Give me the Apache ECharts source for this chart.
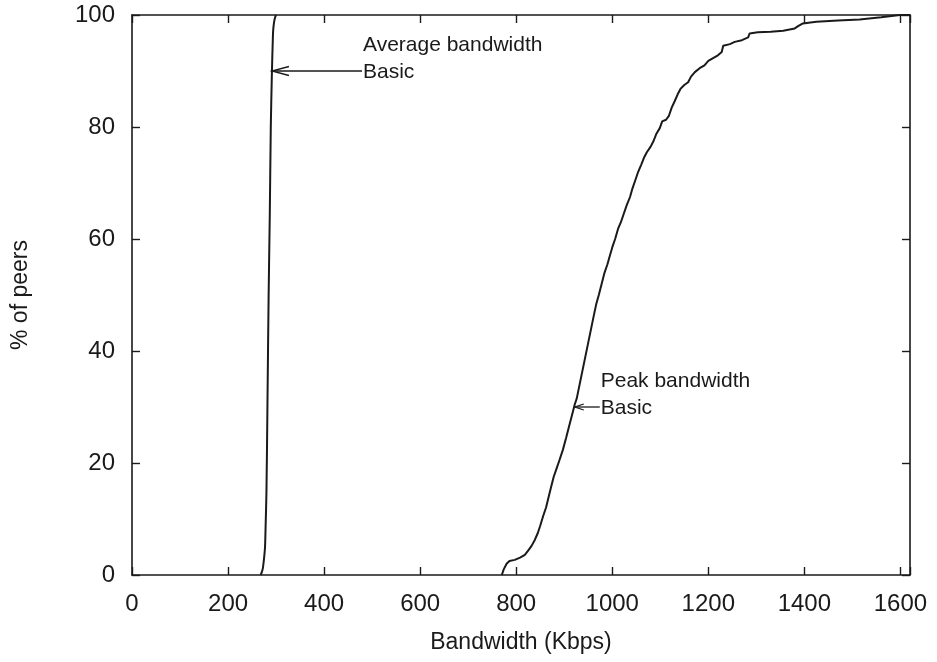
<!DOCTYPE html>
<html><head><meta charset="utf-8">
<script src="https://cdn.jsdelivr.net/npm/echarts@6/dist/echarts.min.js"></script>
<style>html,body{margin:0;padding:0;background:#fff}#c{width:937px;height:662px}</style>
</head><body><div id="c"></div>
<script>
// ---- data ----
const xTicks = [0, 200, 400, 600, 800, 1000, 1200, 1400, 1600];
const yTicks = [0, 20, 40, 60, 80, 100];
const avgBandwidth = [[268,0],[272,1],[275,3],[277,5],[278,8],[280,15],[282,30],[284.5,50],[287,65],[289,80],[291.4,90],[293,95],[294,97.3],[296,98.8],[298,99.6],[300,100]];
const peakBandwidth = [[770,0],[774,1],[780,2],[786,2.5],[797,2.7],[808,3.1],[818,3.6],[826,4.5],[832,5.2],[839,6.3],[845,7.5],[850,8.8],[856,10.5],[862,12],[866,13.4],[872,15.5],[878,17.5],[884,19],[890,20.5],[897,22.3],[904,24.5],[910,26.5],[916,28.5],[922,30.5],[926,31.5],[932,34],[938,36.5],[944,39],[950,41.5],[956,44],[962,46.5],[967,48.5],[972,50],[978,52],[984,54],[990,55.5],[995,57],[1000,58.5],[1006,60],[1012,61.8],[1018,63],[1024,64.5],[1030,66],[1037,67.5],[1042,69],[1048,70.5],[1054,72],[1060,73.2],[1066,74.5],[1072,75.5],[1080,76.5],[1086,77.5],[1092,78.8],[1099,79.8],[1104,81],[1112,81.3],[1118,82],[1124,83.5],[1130,84.6],[1136,85.8],[1142,86.8],[1150,87.5],[1158,88],[1164,89],[1172,89.8],[1182,90.5],[1192,91],[1200,91.8],[1210,92.3],[1220,92.8],[1228,93.4],[1231,94.5],[1245,94.8],[1255,95.2],[1270,95.5],[1283,96],[1286,96.7],[1303,96.9],[1330,97],[1356,97.2],[1380,97.6],[1387,98],[1397,98.5],[1425,98.8],[1470,99],[1515,99.2],[1560,99.6],[1599,100],[1620,100]];
const annotations = [
  {lines:['Average bandwidth','Basic'], textAt:[481, 94.6], lineStep:4.8, arrowFrom:[479,90], arrowTo:[291.4,90], headLen:17, headHalf:4.5},
  {lines:['Peak bandwidth','Basic'], textAt:[976, 34.6], lineStep:4.8, arrowFrom:[974,30], arrowTo:[922,30], headLen:9, headHalf:3}
];
const xName = 'Bandwidth (Kbps)';
const yName = '% of peers';

const FONT = '"Liberation Sans", Arial, Helvetica, sans-serif';
const INK = '#1a1a1a';
const chart = echarts.init(document.getElementById('c'), null, {renderer:'canvas'});
const axLine = {show:true, onZero:false, lineStyle:{color:INK, width:1.6}};
const tickIn = {show:true, inside:true, length:8, lineStyle:{color:INK, width:1.4}};
const xBase = {type:'value', min:0, max:1620, interval:200, axisLine:axLine, axisTick:tickIn, splitLine:{show:false}};
const yBase = {type:'value', min:0, max:100, interval:20, axisLine:axLine, axisTick:tickIn, splitLine:{show:false}};
chart.setOption({
  animation:false,
  backgroundColor:'#fff',
  grid:{left:132, right:27, top:15, bottom:87, containLabel:false},
  xAxis:[
    Object.assign({}, xBase, {position:'bottom', name:xName, nameLocation:'middle', nameGap:56,
      nameTextStyle:{fontFamily:FONT, fontSize:23, color:INK},
      axisLabel:{margin:17, fontFamily:FONT, fontSize:24, color:INK, formatter:v => xTicks.includes(v) ? String(v) : ''}}),
    Object.assign({}, xBase, {position:'top', axisLabel:{show:false}})
  ],
  yAxis:[
    Object.assign({}, yBase, {position:'left', name:yName, nameLocation:'middle', nameGap:100, nameRotate:90,
      nameTextStyle:{fontFamily:FONT, fontSize:23, color:INK},
      axisLabel:{margin:17, fontFamily:FONT, fontSize:24, color:INK, formatter:v => yTicks.includes(v) ? String(v) : ''}}),
    Object.assign({}, yBase, {position:'right', axisLabel:{show:false}})
  ],
  series:[
    {type:'line', name:'Average bandwidth', data:avgBandwidth, showSymbol:false, smooth:0.3, lineStyle:{color:INK, width:2}},
    {type:'line', name:'Peak bandwidth', data:peakBandwidth, showSymbol:false, lineStyle:{color:INK, width:2}}
  ]
});
const g = [];
annotations.forEach(a => {
  a.lines.forEach((t, i) => {
    const p = chart.convertToPixel({gridIndex:0}, [a.textAt[0], a.textAt[1] - i*a.lineStep]);
    g.push({type:'text', x:p[0], y:p[1], style:{text:t, fontFamily:FONT, fontSize:21, fill:INK, verticalAlign:'middle', align:'left'}});
  });
  const f = chart.convertToPixel({gridIndex:0}, a.arrowFrom);
  const t = chart.convertToPixel({gridIndex:0}, a.arrowTo);
  g.push({type:'line', shape:{x1:f[0], y1:f[1], x2:t[0], y2:t[1]}, style:{stroke:INK, lineWidth:1.3}});
  g.push({type:'polyline', shape:{points:[[t[0]+a.headLen, t[1]-a.headHalf],[t[0], t[1]],[t[0]+a.headLen, t[1]+a.headHalf]]}, style:{stroke:INK, lineWidth:1.3, fill:null}});
});
chart.setOption({graphic:g});
</script></body></html>
